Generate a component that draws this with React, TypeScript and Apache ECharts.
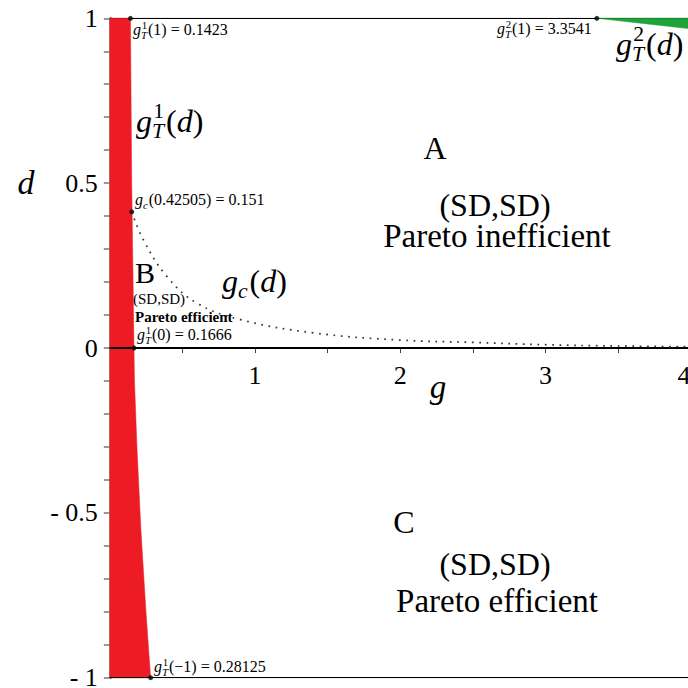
import React, { useEffect, useRef } from "react";
import * as echarts from "echarts";

// Boundary g_T^1(d): g as a function of d (red region lies between g = 0 and this curve)
const redD = [1, 0.5, 0, -0.1, -0.3, -0.55, -0.8, -1];
const redG = [0.1423, 0.151, 0.1666, 0.17, 0.187, 0.214, 0.249, 0.28125];

// Boundary g_T^2(d) (green region above it, below d = 1)
const greenG = [3.3541, 3.7, 4.0];
const greenD = [1, 0.983, 0.968];

// Dotted curve g_c(d)
const gcG = [0.151, 0.23, 0.393, 0.6, 0.9, 1.4, 2.0, 2.5, 3.0, 3.5, 4.0];
const gcD = [0.413, 0.329, 0.217, 0.136, 0.086, 0.046, 0.024, 0.017, 0.01, 0.006, 0.004];

// Marked points
const ptG = [0.1423, 0.151, 0.1666, 0.28125, 3.3541];
const ptD = [1, 0.413, 0, -1, 1];

// Axis extents and tick labels
const xMin = 0;
const xMax = 4;
const yMin = -1;
const yMax = 1;
const xTickLabels = [1, 2, 3, 4];
const yTickValues = [-1, -0.5, 0, 0.5, 1];
const yTickLabels = ["- 1", "- 0.5", "0", "0.5", "1"];

const FONT = '"Liberation Serif", "Times New Roman", serif';
const RED = "#ed1c24";
const GREEN = "#1fa33b";

let measureCtx: CanvasRenderingContext2D | null = null;
function tw(text: string, size: number, italic: boolean, bold = false): number {
  if (!measureCtx) measureCtx = document.createElement("canvas").getContext("2d");
  if (!measureCtx) return text.length * size * 0.5;
  measureCtx.font = `${italic ? "italic " : ""}${bold ? "bold " : ""}${size}px ${FONT}`;
  return measureCtx.measureText(text).width;
}

function txt(x: number, base: number, size: number, text: string, italic: boolean, bold = false) {
  return {
    type: "text",
    x,
    y: base - 0.34 * size,
    silent: true,
    z: 100,
    style: {
      text,
      font: `${italic ? "italic " : ""}${bold ? "bold " : ""}${size}px ${FONT}`,
      fill: "#000",
      textAlign: "left",
      textVerticalAlign: "middle",
      align: "left",
      verticalAlign: "middle",
    },
  };
}

type Tok = { t?: string; it?: boolean; sup?: string; sub?: string; subIt?: boolean };

function mathLabel(x: number, base: number, size: number, toks: Tok[], align: "left" | "center" = "left", bold = false) {
  const s2 = size * 0.68;
  const widths = toks.map((tk) =>
    tk.t !== undefined
      ? tw(tk.t, size, !!tk.it, bold)
      : Math.max(tk.sup ? tw(tk.sup, s2, false) : 0, tk.sub ? tw(tk.sub, s2, tk.subIt !== false) : 0) + size * 0.06
  );
  const total = widths.reduce((a, b) => a + b, 0);
  let cx = align === "center" ? x - total / 2 : x;
  const els: any[] = [];
  toks.forEach((tk, i) => {
    if (tk.t !== undefined) {
      els.push(txt(cx, base, size, tk.t, !!tk.it, bold));
    } else {
      if (tk.sup) els.push(txt(cx + size * 0.04, base - size * 0.42, s2, tk.sup, false));
      if (tk.sub) els.push(txt(cx, base + size * 0.2, s2, tk.sub, tk.subIt !== false));
    }
    cx += widths[i];
  });
  return els;
}

function polySeries(points: number[][], color: string, z: number) {
  return {
    type: "custom",
    coordinateSystem: "cartesian2d",
    silent: true,
    z,
    data: points,
    renderItem: (params: any, api: any) => {
      if (params.dataIndex !== 0) return null;
      return {
        type: "polygon",
        shape: { points: points.map((p) => api.coord(p)) },
        style: { fill: color, stroke: color, lineWidth: 0.5 },
      };
    },
  };
}

export default function App() {
  const ref = useRef<HTMLDivElement>(null);

  useEffect(() => {
    if (!ref.current) return;
    const chart = echarts.init(ref.current, null, { renderer: "svg" });

    const redPoly = [[0, yMax], ...redG.map((g, i) => [g, redD[i]]), [0, yMin]];
    const greenPoly = [...greenG.map((g, i) => [g, greenD[i]]), [xMax, yMax]];
    const gcData = gcG.map((g, i) => [g, gcD[i]]);
    const ptData = ptG.map((g, i) => [g, ptD[i]]);

    const small = 16;
    const big = 32;
    const T1: Tok = { sup: "1", sub: "T" };
    const T2: Tok = { sup: "2", sub: "T" };

    const graphic: any[] = [
      ...mathLabel(133, 35, small, [{ t: "g", it: true }, T1, { t: "(1) = 0.1423" }]),
      ...mathLabel(135, 205, small, [{ t: "g", it: true }, { sub: "c" }, { t: "(0.42505) = 0.151" }]),
      ...mathLabel(135, 283, 30, [{ t: "B" }]),
      ...mathLabel(133, 304, 15, [{ t: "(SD,SD)" }]),
      ...mathLabel(135, 322, 15, [{ t: "Pareto efficient" }], "left", true),
      ...mathLabel(137, 340, small, [{ t: "g", it: true }, T1, { t: "(0) = 0.1666" }]),
      ...mathLabel(222, 292, big, [{ t: "g", it: true }, { sub: "c" }, { t: "(" }, { t: "d", it: true }, { t: ")" }]),
      ...mathLabel(136, 132, big, [{ t: "g", it: true }, T1, { t: "(" }, { t: "d", it: true }, { t: ")" }]),
      ...mathLabel(435, 159, big, [{ t: "A" }], "center"),
      ...mathLabel(495, 216, big, [{ t: "(SD,SD)" }], "center"),
      ...mathLabel(497, 247, 33, [{ t: "Pareto inefficient" }], "center"),
      ...mathLabel(404, 533, big, [{ t: "C" }], "center"),
      ...mathLabel(495, 575, big, [{ t: "(SD,SD)" }], "center"),
      ...mathLabel(497, 612, 33, [{ t: "Pareto efficient" }], "center"),
      ...mathLabel(154, 672, small, [{ t: "g", it: true }, T1, { t: "(−1) = 0.28125" }]),
      ...mathLabel(497, 34, small, [{ t: "g", it: true }, T2, { t: "(1) = 3.3541" }]),
      ...mathLabel(616, 55, big, [{ t: "g", it: true }, T2, { t: "(" }, { t: "d", it: true }, { t: ")" }]),
      ...mathLabel(26, 194, 34, [{ t: "d", it: true }], "center"),
      ...mathLabel(438, 398, 33, [{ t: "g", it: true }], "center"),
    ];

    const yLabelFor = (v: number) => {
      for (let i = 0; i < yTickValues.length; i++) {
        if (Math.abs(v - yTickValues[i]) < 1e-6) return yTickLabels[i];
      }
      return "";
    };
    const xLabelFor = (v: number) => {
      for (const t of xTickLabels) if (Math.abs(v - t) < 1e-6) return String(t);
      return "";
    };

    chart.setOption({
      animation: false,
      grid: {
        left: 109.8,
        right: -2.6,
        top: 18.3,
        bottom: 10.3,
        containLabel: false,
        outerBoundsMode: "none",
      },
      xAxis: {
        type: "value",
        min: xMin,
        max: xMax,
        interval: 0.5,
        position: "bottom",
        offset: 0,
        axisLine: { show: true, onZero: false, lineStyle: { color: "#000", width: 2 } },
        axisTick: { show: true, length: 5, lineStyle: { color: "#444", width: 1 } },
        splitLine: { show: false },
        axisLabel: {
          formatter: xLabelFor,
          fontFamily: FONT,
          fontSize: 26,
          color: "#000",
          margin: 14,
          showMinLabel: false,
          alignMaxLabel: "right",
        },
      },
      yAxis: {
        type: "value",
        min: yMin,
        max: yMax,
        interval: 0.1,
        axisLine: { show: true, onZero: false, lineStyle: { color: "#999", width: 3 } },
        axisTick: { show: true, length: 6, lineStyle: { color: "#777", width: 1.5 } },
        splitLine: { show: false },
        axisLabel: {
          formatter: yLabelFor,
          fontFamily: FONT,
          fontSize: 26,
          color: "#000",
          margin: 12,
        },
      },
      series: [
        {
          type: "line",
          data: [[xMin, yMax], [xMax, yMax]],
          symbol: "none",
          silent: true,
          z: 1,
          lineStyle: { color: "#000", width: 1.2 },
        },
        polySeries(redPoly, RED, 2),
        polySeries(greenPoly, GREEN, 2),
        {
          type: "line",
          data: [[xMin, yMin], [xMax, yMin]],
          symbol: "none",
          silent: true,
          z: 3,
          lineStyle: { color: "#000", width: 1.2 },
        },
        {
          type: "line",
          data: [[xMin, 0], [xMax, 0]],
          symbol: "none",
          silent: true,
          z: 3,
          lineStyle: { color: "#000", width: 2 },
        },
        {
          type: "line",
          data: gcData,
          symbol: "none",
          smooth: 0.4,
          silent: true,
          z: 4,
          lineStyle: { color: "#333", width: 1.7, type: [1.7, 5.6] },
        },
        {
          type: "scatter",
          data: ptData,
          symbol: "circle",
          symbolSize: 5,
          silent: true,
          z: 5,
          itemStyle: { color: "#000" },
        },
      ],
      graphic,
    });

    // Place the g axis on d = 0 (axis crosses at the origin), using the chart's own scale.
    const pxZero = chart.convertToPixel({ yAxisIndex: 0 }, 0) as number;
    const pxMin = chart.convertToPixel({ yAxisIndex: 0 }, yMin) as number;
    if (typeof pxZero === "number" && typeof pxMin === "number") {
      chart.setOption({ xAxis: { offset: -(pxMin - pxZero) } });
    }

    return () => chart.dispose();
  }, []);

  return (
    <div
      ref={ref}
      style={{ position: "fixed", left: 0, top: 0, width: 688, height: 688, background: "#fff" }}
    />
  );
}
